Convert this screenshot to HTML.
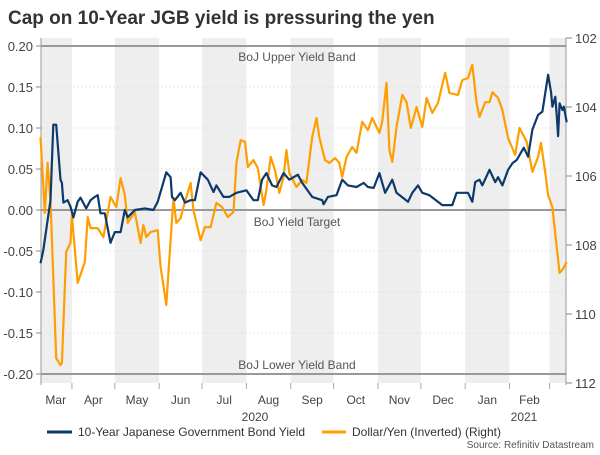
<!DOCTYPE html>
<html><head><meta charset="utf-8"><style>
body{margin:0;background:#fff;font-family:"Liberation Sans",sans-serif}
svg text{font-family:"Liberation Sans",sans-serif}
</style></head><body>
<svg width="600" height="450" viewBox="0 0 600 450">
<text x="8" y="24" font-size="19" font-weight="bold" fill="#333">Cap on 10-Year JGB yield is pressuring the yen</text>
<g id="bands"></g><g id="grid"></g><g id="refs"></g><g id="axes"></g><g id="series"></g><g id="labels"></g>
<g>
<line x1="47" y1="432" x2="72" y2="432" stroke="#0d3a6b" stroke-width="3"/>
<text x="78" y="436" font-size="12" fill="#333">10-Year Japanese Government Bond Yield</text>
<line x1="322" y1="432" x2="346" y2="432" stroke="#ff9e00" stroke-width="3"/>
<text x="352" y="436" font-size="12" fill="#333">Dollar/Yen (Inverted) (Right)</text>
</g>
<text x="594" y="448" font-size="10" fill="#555" text-anchor="end">Source: Refinitiv Datastream</text>
</svg>
<script>
const jgbDays=[9,11,16,18,20,23,24,25,28,30,32,35,37,41,44,47,49,51,54,58,61,65,68,70,75,82,88,91,97,100,101,103,107,110,114,117,121,126,130,132,137,141,146,153,158,161,164,167,171,174,179,183,189,192,199,206,207,210,216,220,224,230,235,238,242,246,250,255,258,266,269,273,276,281,290,297,300,308,311,313,316,318,323,327,329,332,336,339,342,347,350,353,357,360,364,366,367,369,370,371,372,374,375,377];
const jgbVals=[-0.065,-0.049,0.012,0.104,0.104,0.037,0.033,0.009,0.012,0.004,-0.009,0.010,0.015,0.002,0.012,0.016,0.018,-0.004,-0.004,-0.040,-0.027,-0.027,0.000,-0.009,0.000,0.002,0.000,0.010,0.046,0.040,0.016,0.012,0.021,0.009,0.012,0.012,0.046,0.037,0.022,0.030,0.016,0.016,0.021,0.024,0.012,0.012,0.037,0.045,0.030,0.028,0.045,0.037,0.043,0.033,0.016,0.012,0.007,0.016,0.018,0.037,0.030,0.028,0.033,0.028,0.027,0.045,0.021,0.037,0.021,0.010,0.021,0.030,0.021,0.018,0.006,0.006,0.021,0.021,0.010,0.034,0.037,0.030,0.049,0.034,0.040,0.030,0.049,0.057,0.061,0.076,0.065,0.098,0.116,0.120,0.165,0.144,0.126,0.138,0.116,0.090,0.130,0.122,0.126,0.107];
const fxDays=[9,12,14,16,20,23,24,27,30,31,35,40,42,44,49,53,58,62,65,68,70,75,79,81,83,86,91,93,97,100,102,104,107,110,114,116,121,124,128,132,136,140,144,146,149,152,154,158,161,165,167,170,173,176,179,181,183,188,192,195,199,202,204,208,211,215,218,220,223,227,230,234,238,241,246,248,251,253,255,258,262,265,268,272,276,279,283,287,292,295,301,304,308,311,314,316,320,323,325,329,332,336,341,344,349,353,357,359,362,364,367,370,372,374,377];
const fxVals=[104.87,107.07,105.62,106.70,111.28,111.48,111.42,108.20,107.94,107.13,109.10,108.49,107.19,107.51,107.51,107.77,106.61,106.90,106.06,106.55,107.36,107.04,107.94,107.42,107.77,107.62,107.57,108.64,109.74,107.86,106.64,107.36,107.22,106.75,106.20,106.99,107.86,107.48,107.48,106.78,106.90,107.19,107.04,105.62,104.96,105.01,105.74,105.54,105.77,106.84,106.41,105.45,105.83,106.49,106.03,105.25,105.91,106.32,106.12,106.20,104.87,104.32,104.87,105.54,105.62,105.48,105.62,106.03,105.45,105.16,105.33,104.43,104.67,104.32,104.75,104.43,103.30,105.25,105.59,104.58,103.65,103.86,104.61,104.00,104.58,103.74,104.17,103.88,103.01,103.59,103.65,103.22,103.16,102.78,103.88,104.29,103.86,103.86,103.57,103.74,104.09,104.90,105.39,104.61,105.01,105.88,105.45,105.04,105.91,106.55,106.90,108.06,108.81,108.72,108.49];
const monthLabels=["Mar","Apr","May","Jun","Jul","Aug","Sep","Oct","Nov","Dec","Jan","Feb"];
const monthStarts=[0,31,61,92,122,153,184,214,245,275,306,337,365];
const leftTicks=[0.20,0.15,0.10,0.05,0.00,-0.05,-0.10,-0.15,-0.20];
const rightTicks=[102,104,106,108,110,112];
const refLines=[0.20,0.00,-0.20];
const refLabels=["BoJ Upper Yield Band","BoJ Yield Target","BoJ Lower Yield Band"];

const X0=41,X1=566,Y0=38,Y1=383;
const xS=d=>27.6+d*1.43;
const yL=v=>210-v*820;
const yR=v=>38+(v-102)*34.5;
const NS="http://www.w3.org/2000/svg";
function mk(tag,attrs,parent){const e=document.createElementNS(NS,tag);for(const k in attrs)e.setAttribute(k,attrs[k]);document.getElementById(parent).appendChild(e);return e;}

// shaded alternating months
for(let i=0;i<monthStarts.length;i+=2){
  const a=Math.max(X0,xS(monthStarts[i]));const b=Math.min(X1,i+1<monthStarts.length?xS(monthStarts[i+1]):X1);
  const r=mk('rect',{x:a,y:Y0,width:b-a,height:Y1-Y0,fill:'#eeeeee'},'bands');
  
  
}
leftTicks.forEach(t=>{
  const y=yL(t);
  const g=mk('line',{x1:X0,x2:X1,y1:y,y2:y,stroke:'#ddd','stroke-dasharray':'2,2','stroke-width':0.8},'grid');
  
  
  mk('line',{x1:X0-5,x2:X0,y1:y,y2:y,stroke:'#888'},'axes');
  const tx=mk('text',{x:X0-8,y:y+5,'font-size':13,fill:'#444','text-anchor':'end'},'axes');
  tx.textContent=t.toFixed(2);
  
  
});
rightTicks.forEach(t=>{
  const y=yR(t);
  mk('line',{x1:X1,x2:X1+6,y1:y,y2:y,stroke:'#888'},'axes');
  const tx=mk('text',{x:X1+9,y:y+5,'font-size':13,fill:'#444'},'axes');
  tx.textContent=t;
  
  
});
mk('line',{x1:X0,x2:X0,y1:Y0,y2:Y1+2,stroke:'#999'},'axes');
mk('line',{x1:X1,x2:X1,y1:Y0,y2:Y1+2,stroke:'#999'},'axes');
refLines.forEach((v,i)=>{
  const y=yL(v);
  const l=mk('line',{x1:X0,x2:X1,y1:y,y2:y,stroke:'#999','stroke-width':2},'refs');
  
  
  const t=mk('text',{x:297,y:v>0.1?y+15:y+16,'font-size':12,fill:'#555','text-anchor':'middle'},'labels');
  if(v<-0.1)t.setAttribute('y',y-5);
  t.textContent=refLabels[i];
  
  
});
// month ticks & labels
for(let i=1;i<monthStarts.length;i++){
  const x=xS(monthStarts[i]);
  mk('line',{x1:x,x2:x,y1:Y1,y2:Y1+6,stroke:'#aaa'},'axes');
}
monthLabels.forEach((m,i)=>{
  const a=Math.max(X0,xS(monthStarts[i])),b=xS(monthStarts[i+1]);
  const t=mk('text',{x:(xS(monthStarts[i])+b)/2+(i==0?6:0),y:404,'font-size':12,fill:'#444','text-anchor':'middle'},'axes');
  t.textContent=m;
  
  
});
[["2020",255],["2021",524]].forEach(([s,x])=>{
  const t=mk('text',{x:x,y:421,'font-size':12,fill:'#444','text-anchor':'middle'},'axes');
  t.textContent=s;
  
  
});
function path(days,vals,ys){return days.map((d,i)=>(i?'L':'M')+xS(d).toFixed(1)+','+ys(vals[i]).toFixed(1)).join('');}
const fx=mk('path',{d:path(fxDays,fxVals,yR),fill:'none',stroke:'#ff9e00','stroke-width':2.2,'stroke-linejoin':'round'},'series');


const jg=mk('path',{d:path(jgbDays,jgbVals,yL),fill:'none',stroke:'#0d3a6b','stroke-width':2.2,'stroke-linejoin':'round'},'series');


</script>
</body></html>
